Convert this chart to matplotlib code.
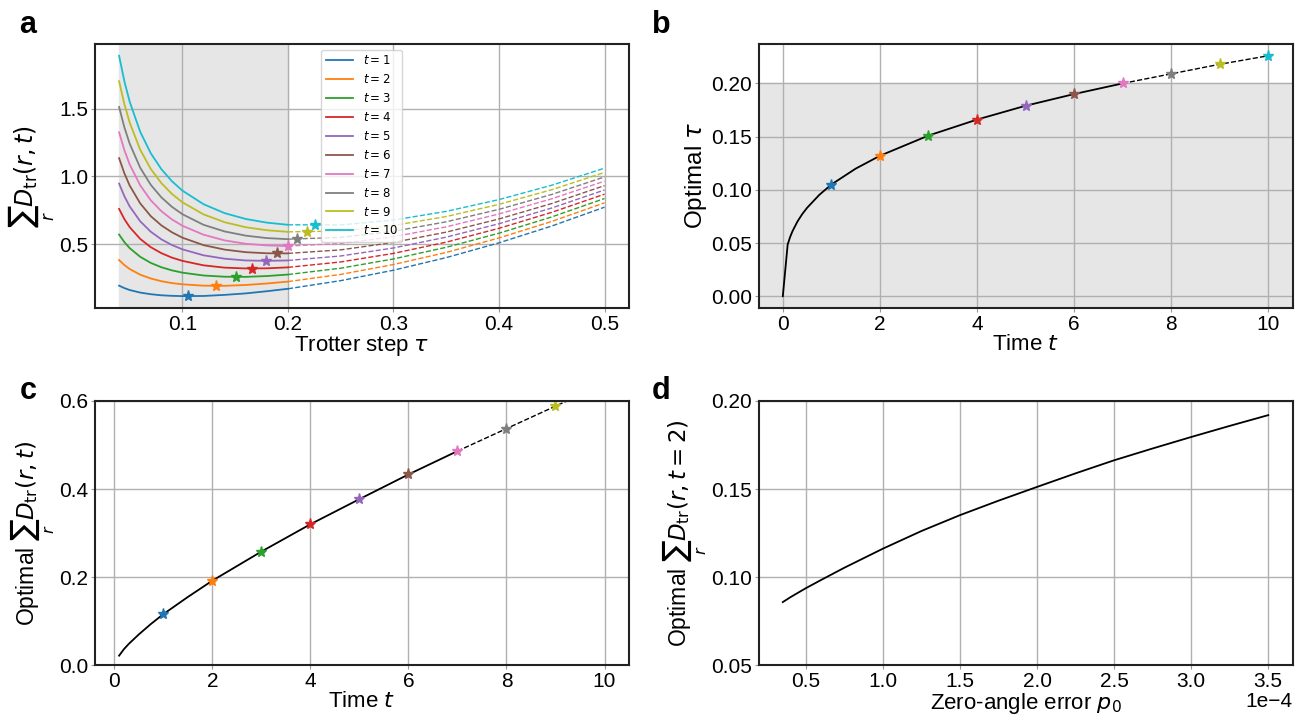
import matplotlib
matplotlib.use('Agg')
import matplotlib.pyplot as plt
from matplotlib.ticker import MultipleLocator

plt.rcParams['font.family'] = ['Liberation Sans', 'DejaVu Sans']
plt.rcParams['mathtext.fontset'] = 'dejavusans'

# panel a: error vs Trotter step, one curve per time t
times = [1, 2, 3, 4, 5, 6, 7, 8, 9, 10]
tau = [0.04, 0.045, 0.05, 0.06, 0.07, 0.08, 0.09, 0.10, 0.12, 0.14, 0.16, 0.18, 0.20,
       0.25, 0.30, 0.35, 0.40, 0.45, 0.50]
err_t1 = [0.194, 0.176, 0.162, 0.143, 0.131, 0.123, 0.119, 0.117, 0.118, 0.126, 0.137, 0.153, 0.171,
          0.231, 0.308, 0.401, 0.510, 0.634, 0.773]
err_t2 = [0.383, 0.346, 0.317, 0.275, 0.247, 0.227, 0.213, 0.204, 0.194, 0.193, 0.199, 0.210, 0.224,
          0.277, 0.350, 0.439, 0.546, 0.668, 0.805]
err_t3 = [0.571, 0.515, 0.471, 0.407, 0.362, 0.330, 0.307, 0.290, 0.269, 0.260, 0.259, 0.265, 0.276,
          0.323, 0.391, 0.477, 0.581, 0.701, 0.837]
err_t4 = [0.760, 0.685, 0.626, 0.539, 0.478, 0.434, 0.401, 0.377, 0.344, 0.327, 0.321, 0.322, 0.329,
          0.369, 0.432, 0.515, 0.617, 0.735, 0.869]
err_t5 = [0.947, 0.854, 0.779, 0.669, 0.592, 0.536, 0.494, 0.462, 0.418, 0.393, 0.380, 0.377, 0.380,
          0.413, 0.472, 0.552, 0.651, 0.767, 0.900]
err_t6 = [1.135, 1.023, 0.933, 0.801, 0.707, 0.639, 0.588, 0.548, 0.493, 0.460, 0.441, 0.433, 0.432,
          0.458, 0.513, 0.589, 0.686, 0.800, 0.932]
err_t7 = [1.325, 1.194, 1.089, 0.934, 0.824, 0.744, 0.683, 0.636, 0.570, 0.528, 0.503, 0.491, 0.486,
          0.505, 0.555, 0.628, 0.723, 0.835, 0.965]
err_t8 = [1.512, 1.362, 1.242, 1.064, 0.938, 0.846, 0.776, 0.721, 0.643, 0.594, 0.563, 0.545, 0.537,
          0.550, 0.595, 0.665, 0.757, 0.867, 0.996]
err_t9 = [1.702, 1.533, 1.398, 1.197, 1.055, 0.951, 0.871, 0.809, 0.720, 0.662, 0.625, 0.603, 0.591,
          0.597, 0.638, 0.704, 0.794, 0.902, 1.029]
err_t10 = [1.890, 1.702, 1.552, 1.329, 1.171, 1.054, 0.965, 0.895, 0.795, 0.729, 0.686, 0.659, 0.643,
           0.642, 0.678, 0.742, 0.829, 0.935, 1.061]
curves = [err_t1, err_t2, err_t3, err_t4, err_t5, err_t6, err_t7, err_t8, err_t9, err_t10]
tau_max = 0.2  # end of the accessible (shaded) step range

# optimal points (stars)
opt_tau = [0.105, 0.132, 0.151, 0.166, 0.179, 0.190, 0.200, 0.209, 0.218, 0.226]
opt_err = [0.116, 0.192, 0.258, 0.320, 0.377, 0.433, 0.486, 0.537, 0.588, 0.638]

# panel b: optimal tau vs time
time_b = [0, 0.1, 0.15, 0.2, 0.3, 0.4, 0.5, 0.75, 1, 1.5, 2, 3, 4, 5, 6, 7]
tau_b = [0, 0.0486, 0.0556, 0.0612, 0.0701, 0.0772, 0.0831, 0.0952, 0.105, 0.1199, 0.132,
         0.151, 0.166, 0.179, 0.190, 0.200]
time_b_ext = [7, 8, 9, 10]
tau_b_ext = [0.200, 0.209, 0.218, 0.226]

# panel c: optimal error vs time
time_c = [0.1, 0.2, 0.3, 0.5, 0.75, 1, 1.5, 2, 3, 4, 5, 6, 7]
err_c = [0.022, 0.037, 0.049, 0.070, 0.094, 0.116, 0.155, 0.192, 0.258, 0.320, 0.377, 0.433, 0.486]
time_c_ext = [7, 8, 9, 10]
err_c_ext = [0.486, 0.537, 0.588, 0.638]

# panel d: optimal error at t=2 vs zero-angle error
p0 = [0.35e-4, 0.4e-4, 0.5e-4, 0.6e-4, 0.75e-4, 1.0e-4, 1.25e-4, 1.5e-4, 1.75e-4, 2.0e-4,
      2.25e-4, 2.5e-4, 2.75e-4, 3.0e-4, 3.25e-4, 3.5e-4]
err_d = [0.0859, 0.0887, 0.0938, 0.0985, 0.1054, 0.1162, 0.1262, 0.1352, 0.1434, 0.1512,
         0.1589, 0.1663, 0.1730, 0.1795, 0.1858, 0.1919]

colors = plt.rcParams['axes.prop_cycle'].by_key()['color']
label_sum = r'$\sum_r D_{\rm tr}(r,t)$'

fig, axes = plt.subplots(2, 2, figsize=(12.99, 7.17), dpi=100)
fig.subplots_adjust(left=0.073, right=0.995, top=0.939, bottom=0.072, wspace=0.243, hspace=0.35)
ax_a, ax_b = axes[0]
ax_c, ax_d = axes[1]

for ax in axes.flat:
    ax.grid(True, color='#b0b0b0', linewidth=1.0)
    ax.tick_params(labelsize=15, length=3, pad=1.5, color='#999999')
    for s in ax.spines.values():
        s.set_linewidth(1.5)
        s.set_color('#222222')

# a
cut = tau.index(tau_max)
for i, t in enumerate(times):
    ax_a.plot(tau[:cut + 1], curves[i][:cut + 1], color=colors[i], lw=1.3, label=f'$t={t}$')
    ax_a.plot(tau[cut:], curves[i][cut:], color=colors[i], lw=1.0, ls='--')
    ax_a.plot(opt_tau[i], opt_err[i], marker='*', color=colors[i], ms=8)
ax_a.axvspan(tau[0], tau_max, color='0.9', zorder=0)
ax_a.set_xlabel(r'Trotter step $\tau$', fontsize=16, labelpad=0)
ax_a.set_ylabel(label_sum, fontsize=17, labelpad=2)
ax_a.legend(loc='upper center', fontsize=8.5, handlelength=2.3)

# b
ax_b.plot(time_b, tau_b, color='black', lw=1.3)
ax_b.plot(time_b_ext, tau_b_ext, color='black', lw=1.0, ls='--')
for i, t in enumerate(times):
    ax_b.plot(t, opt_tau[i], marker='*', color=colors[i], ms=8)
ylim = ax_b.get_ylim()
ax_b.axhspan(ylim[0], tau_max, color='0.9', zorder=0)
ax_b.set_ylim(ylim)
ax_b.set_xlabel(r'Time $t$', fontsize=16, labelpad=0)
ax_b.set_ylabel(r'Optimal $\tau$', fontsize=17.5, labelpad=2)

# c
ax_c.plot(time_c, err_c, color='black', lw=1.3)
ax_c.plot(time_c_ext, err_c_ext, color='black', lw=1.0, ls='--')
for i, t in enumerate(times):
    ax_c.plot(t, opt_err[i], marker='*', color=colors[i], ms=8)
ax_c.set_ylim(0, 0.6)
ax_c.yaxis.set_major_locator(MultipleLocator(0.2))
ax_c.set_xlabel(r'Time $t$', fontsize=16, labelpad=0)
ax_c.set_ylabel('Optimal ' + label_sum, fontsize=16.5, labelpad=2)

# d
ax_d.plot(p0, err_d, color='black', lw=1.3)
ax_d.set_ylim(0.05, 0.2)
ax_d.ticklabel_format(axis='x', style='sci', scilimits=(0, 0))
ax_d.set_xlabel(r'Zero-angle error $p_0$', fontsize=16, labelpad=0)
ax_d.set_ylabel(r'Optimal $\sum_r D_{\rm tr}(r,t=2)$', fontsize=16.5, labelpad=2)

for lab, x, y in [('a', 0.015, 0.965), ('b', 0.502, 0.965), ('c', 0.015, 0.455), ('d', 0.502, 0.455)]:
    fig.text(x, y, lab, fontsize=22, fontweight='bold', va='center')

# put the x offset ("1e-4") on the same line as the x label, as in the original
fig.canvas.draw()
offset = ax_d.xaxis.get_major_formatter().get_offset()
ax_d.xaxis.get_offset_text().set_visible(False)
ax_d.annotate(offset, xy=(1, 0), xycoords='axes fraction', xytext=(0, -19.5),
              textcoords='offset points', ha='right', va='top', fontsize=15)

fig.savefig('out.png', dpi=100)
